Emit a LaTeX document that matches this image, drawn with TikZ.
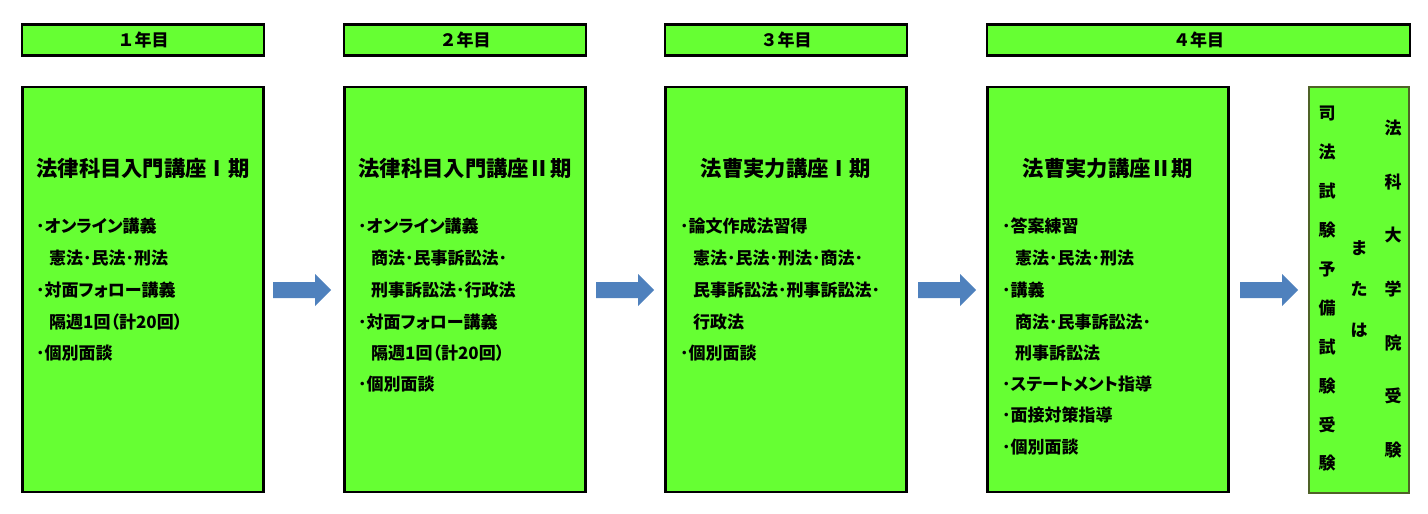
\documentclass[tikz,border=0pt]{standalone}
\usepackage{fontspec}
\setmainfont{Noto Sans CJK JP}[RawFeature=+palt]
\newfontfamily\fixedjp{Noto Sans CJK JP}
\definecolor{boxgreen}{RGB}{102,255,51}
\definecolor{arrowblue}{RGB}{79,129,189}
\definecolor{olive}{RGB}{79,98,40}
\tikzset{
  hdr/.style={draw=black, line width=2.6pt, fill=boxgreen, minimum height=31pt, inner sep=0pt, font=\fixedjp\fontsize{17}{17}\selectfont\bfseries},
  mainbox/.style={draw=black, line width=2.4pt, fill=boxgreen, minimum height=405pt, minimum width=241pt, inner sep=0pt},
  ttl/.style={font=\fixedjp\fontsize{21.3}{21.3}\selectfont\bfseries, inner sep=0pt},
  item/.style={anchor=west, font=\fontsize{17}{17}\selectfont\bfseries, inner sep=0pt},
  vert/.style={align=center, inner sep=0pt},
}
\newcommand{\blockarr}[1]{%
  \fill[arrowblue] (#1,282) -- (#1+42,282) -- (#1+42,274) -- (#1+58,290) -- (#1+42,306) -- (#1+42,298) -- (#1,298) -- cycle;}
\begin{document}
\begin{tikzpicture}[x=1pt,y=-1pt]
\useasboundingbox (0,0) rectangle (1428,514);
% headers
\node[hdr, minimum width=242pt] (h1) at (143,40) {１年目};
\node[hdr, minimum width=242pt] (h2) at (465,40) {２年目};
\node[hdr, minimum width=242pt] (h3) at (786,40) {３年目};
\node[hdr, minimum width=423pt] (h4) at (1198.5,40) {４年目};
% main boxes
\node[mainbox] (b1) at (143,289.5) {};
\node[mainbox] (b2) at (465,289.5) {};
\node[mainbox] (b3) at (786,289.5) {};
\node[mainbox] (b4) at (1108,289.5) {};
\node[draw=olive, line width=2pt, fill=boxgreen, minimum width=100pt, minimum height=406pt, inner sep=0pt] (b5) at (1359,289.5) {};
% arrows
\blockarr{273}
\blockarr{596}
\blockarr{918}
\blockarr{1240}
% box 1
\node[ttl] (t1) at (143,168) {法律科目入門講座Ⅰ期};
\node[item] (a1) at (36,226) {･オンライン講義};
\node[item] (a2) at (49,258) {憲法･民法･刑法};
\node[item] (a3) at (36,290) {･対面フォロー講義};
\node[item] (a4) at (49,322) {隔週1回（計20回）};
\node[item] (a5) at (36,353) {･個別面談};
% box 2
\node[ttl] (t2) at (465,168) {法律科目入門講座Ⅱ期};
\node[item] (c1) at (358,226) {･オンライン講義};
\node[item] (c2) at (371,258) {商法･民事訴訟法･};
\node[item] (c3) at (371,290) {刑事訴訟法･行政法};
\node[item] (c4) at (358,322) {･対面フォロー講義};
\node[item] (c5) at (371,353) {隔週1回（計20回）};
\node[item] (c6) at (358,384) {･個別面談};
% box 3
\node[ttl] (t3) at (786,168) {法曹実力講座Ⅰ期};
\node[item] (d1) at (680,226) {･論文作成法習得};
\node[item] (d2) at (693,258) {憲法･民法･刑法･商法･};
\node[item] (d3) at (693,290) {民事訴訟法･刑事訴訟法･};
\node[item] (d4) at (693,322) {行政法};
\node[item] (d5) at (680,353) {･個別面談};
% box 4
\node[ttl] (t4) at (1108,168) {法曹実力講座Ⅱ期};
\node[item] (e1) at (1002,226) {･答案練習};
\node[item] (e2) at (1015,258) {憲法･民法･刑法};
\node[item] (e3) at (1002,290) {･講義};
\node[item] (e4) at (1015,322) {商法･民事訴訟法･};
\node[item] (e5) at (1015,353) {刑事訴訟法};
\node[item] (e6) at (1002,384) {･ステートメント指導};
\node[item] (e7) at (1002,415) {･面接対策指導};
\node[item] (e8) at (1002,447) {･個別面談};
% box 5 vertical text
\node[vert, font=\fixedjp\fontsize{17}{38.9}\selectfont\bfseries] (v1) at (1327,289) {司\\法\\試\\験\\予\\備\\試\\験\\受\\験};
\node[vert, font=\fixedjp\fontsize{17}{41}\selectfont\bfseries] (v2) at (1359,289) {ま\\た\\は};
\node[vert, font=\fixedjp\fontsize{17}{53.7}\selectfont\bfseries] (v3) at (1393,289) {法\\科\\大\\学\\院\\受\\験};
\end{tikzpicture}
\end{document}
